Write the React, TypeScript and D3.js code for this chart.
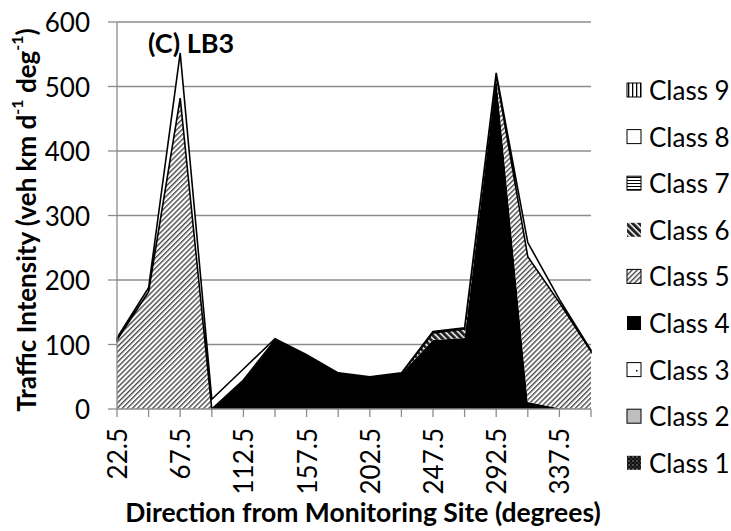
import React from "react";
import * as d3 from "d3";

const directions = [22.5, 45, 67.5, 90, 112.5, 135, 157.5, 180, 202.5, 225, 247.5, 270, 292.5, 315, 337.5, 360];
const classNames = ["Class 1", "Class 2", "Class 3", "Class 4", "Class 5", "Class 6", "Class 7", "Class 8", "Class 9"];
const class1 = [0, 0, 0, 0, 0, 0, 0, 0, 0, 0, 0, 0, 0, 0, 0, 0];
const class2 = [0, 0, 0, 0, 0, 0, 0, 0, 0, 0, 0, 0, 0, 0, 0, 0];
const class3 = [0, 0, 0, 0, 0, 0, 0, 0, 0, 0, 0, 0, 0, 0, 0, 0];
const class4 = [0, 0, 0, 0, 45, 107, 83, 55, 49, 55, 107, 110, 515, 11, 1, 0];
const class5 = [107, 182, 482, 0, 0, 0, 0, 0, 0, 0, 0, 0, 3, 225, 164, 89];
const class6 = [0, 0, 0, 0, 0, 0, 0, 0, 0, 0, 11, 14, 0, 0, 0, 0];
const class7 = [0, 0, 0, 0, 0, 0, 0, 0, 0, 0, 0, 0, 0, 0, 0, 0];
const class8 = [3, 6, 70, 15, 17, 2, 1, 1, 1, 1, 2, 2, 3, 22, 5, 2];
const class9 = [0, 0, 0, 0, 0, 0, 0, 0, 0, 0, 0, 0, 0, 0, 0, 0];
const yTicks = [0, 100, 200, 300, 400, 500, 600];
const xLabelDirs = ["22.5", "67.5", "112.5", "157.5", "202.5", "247.5", "292.5", "337.5"];

const seriesValues = [class1, class2, class3, class4, class5, class6, class7, class8, class9];

const FONT = "Lato, 'Open Sans', sans-serif";

const fills: Record<string, string> = {
  "Class 1": "url(#p1)",
  "Class 2": "#bfbfbf",
  "Class 3": "url(#p3)",
  "Class 4": "#000",
  "Class 5": "url(#p5)",
  "Class 6": "url(#p6)",
  "Class 7": "url(#p7)",
  "Class 8": "#fff",
  "Class 9": "url(#p9)",
};

export default function App() {
  const left = 117, right = 591, top = 22, bottom = 409;
  const x = d3.scaleLinear().domain([0, directions.length - 1]).range([left, right]);
  const y = d3.scaleLinear().domain([0, 600]).range([bottom, top]);

  const rows = directions.map((d, i) => {
    const r: Record<string, number> = { dir: d };
    classNames.forEach((c, k) => (r[c] = seriesValues[k][i]));
    return r;
  });
  const stack = d3.stack<Record<string, number>>().keys(classNames);
  const layers = stack(rows);
  const area = d3
    .area<any>()
    .x((_, i) => x(i))
    .y0((d) => y(d[0]))
    .y1((d) => y(d[1]));

  const legendOrder = [...classNames].reverse();
  const axisColor = "#8c8c8c";

  return (
    <svg width={731} height={531} style={{ position: "absolute", left: 0, top: 0, background: "#fff" }}>
      <defs>
        <pattern id="p5" patternUnits="userSpaceOnUse" width={3.6} height={3.6} patternTransform="rotate(45)">
          <rect width={3.6} height={3.6} fill="#fff" />
          <rect width={1.4} height={3.6} fill="#4a4a4a" />
        </pattern>
        <pattern id="p6" patternUnits="userSpaceOnUse" width={4.5} height={4.5} patternTransform="rotate(-45)">
          <rect width={4.5} height={4.5} fill="#fff" />
          <rect width={3} height={4.5} fill="#222" />
        </pattern>
        <pattern id="p7" patternUnits="userSpaceOnUse" width={4} height={3}>
          <rect width={4} height={3} fill="#fff" />
          <rect width={4} height={1} fill="#000" />
        </pattern>
        <pattern id="p9" patternUnits="userSpaceOnUse" width={4} height={4}>
          <rect width={4} height={4} fill="#fff" />
          <rect width={1.3} height={4} fill="#000" />
        </pattern>
        <pattern id="p3" patternUnits="userSpaceOnUse" width={14} height={14}>
          <rect width={14} height={14} fill="#fff" />
          <rect x={6} y={6} width={1.5} height={1.5} fill="#000" />
        </pattern>
        <pattern id="p1" patternUnits="userSpaceOnUse" width={4} height={4}>
          <rect width={4} height={4} fill="#111" />
          <rect x={0.5} y={0.5} width={1} height={1} fill="#fff" />
          <rect x={2.5} y={2.5} width={1} height={1} fill="#666" />
        </pattern>
      </defs>

      {/* gridlines */}
      {yTicks.filter((t) => t > 0).map((t) => (
        <line key={t} x1={left} x2={right} y1={y(t)} y2={y(t)} stroke={axisColor} strokeWidth={1.3} />
      ))}

      {/* areas */}
      {layers.map((layer) => (
        <path key={layer.key} d={area(layer as any) || ""} fill={fills[layer.key]} stroke="none" />
      ))}
      {/* class 8 outline */}
      {layers
        .filter((l) => l.key === "Class 8")
        .map((layer) => (
          <path key="o8" d={area(layer as any) || ""} fill="none" stroke="#000" strokeWidth={1.6} strokeLinejoin="miter" />
        ))}

      {/* axes */}
      <line x1={left} x2={left} y1={top} y2={bottom} stroke={axisColor} strokeWidth={1.3} />
      {yTicks.map((t) => (
        <line key={"yt" + t} x1={left - 9} x2={left} y1={y(t)} y2={y(t)} stroke={axisColor} strokeWidth={1.3} />
      ))}
      <line x1={left} x2={right} y1={bottom} y2={bottom} stroke={axisColor} strokeWidth={1.3} />
      {directions.map((d, i) => (
        <line key={"xt" + i} x1={x(i)} x2={x(i)} y1={bottom} y2={bottom + 8} stroke={axisColor} strokeWidth={1.3} />
      ))}

      {/* y tick labels */}
      {yTicks.map((t) => (
        <text key={"yl" + t} x={90} y={y(t)} textAnchor="end" dominantBaseline="central" fontFamily={FONT} fontSize={26} fill="#000">
          {t}
        </text>
      ))}

      {/* x tick labels */}
      {directions.map((d, i) =>
        xLabelDirs.includes(String(d)) ? (
          <text
            key={"xl" + i}
            transform={`translate(${x(i)},${428}) rotate(-90)`}
            textAnchor="end"
            dominantBaseline="central"
            fontFamily={FONT}
            fontSize={26}
            fill="#000"
          >
            {String(d)}
          </text>
        ) : null
      )}

      {/* title */}
      <text x={148} y={53} fontFamily={FONT} fontWeight="bold" fontSize={27} fill="#000">
        (C) LB3
      </text>

      {/* axis titles */}
      <text x={363} y={522} textAnchor="middle" fontFamily={FONT} fontWeight="bold" fontSize={26.5} fill="#000">
        Direction from Monitoring Site (degrees)
      </text>
      <text
        transform="translate(26,220) rotate(-90)"
        textAnchor="middle"
        dominantBaseline="central"
        fontFamily={FONT}
        fontWeight="bold"
        fontSize={26}
        fill="#000"
      >
        Traffic Intensity (veh km d
        <tspan fontSize={16} baselineShift="super">-1</tspan>
        <tspan> deg</tspan>
        <tspan fontSize={16} baselineShift="super">-1</tspan>
        <tspan>)</tspan>
      </text>

      {/* legend */}
      {legendOrder.map((c, i) => {
        const cy = 90 + i * 46.6;
        return (
          <g key={"lg" + c}>
            <rect
              x={627}
              y={cy - 7}
              width={14}
              height={14}
              fill={fills[c]}
              stroke={c === "Class 4" || c === "Class 6" || c === "Class 1" ? "none" : "#000"}
              strokeWidth={1}
            />
            <text x={649} y={cy} dominantBaseline="central" fontFamily={FONT} fontSize={26} fill="#000">
              {c}
            </text>
          </g>
        );
      })}
    </svg>
  );
}
